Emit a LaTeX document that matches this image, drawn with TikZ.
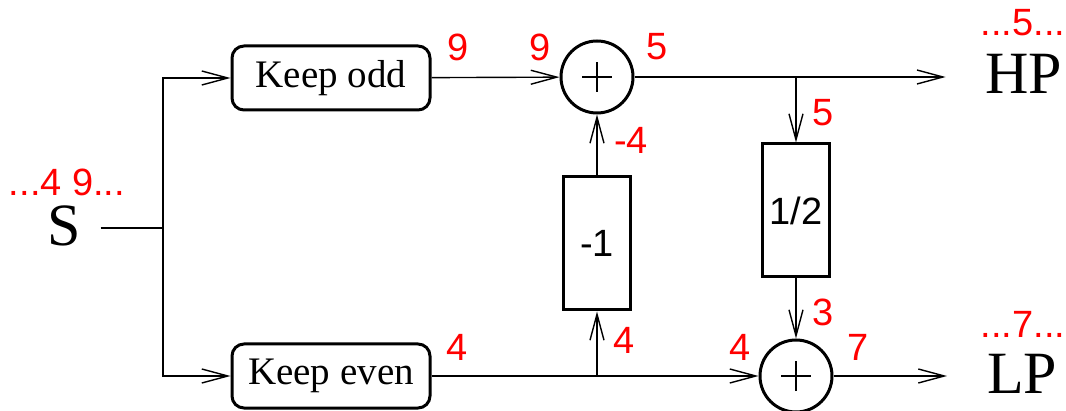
\documentclass[tikz,border=0pt]{standalone}
\usepackage{fontspec}
\setmainfont{Liberation Serif}
\setsansfont{Liberation Sans}
\usepackage{xcolor}
\usetikzlibrary{arrows.meta,positioning}
\newcommand{\bigfont}{\fontsize{30}{34}\selectfont}
\newcommand{\numfont}{\sffamily\fontsize{19}{22}\selectfont}
\tikzset{
  wire/.style={line width=0.7pt},
  arr/.style={wire,-{Straight Barb[length=13pt,width=7pt,line width=0.7pt]}},
  keepbox/.style={draw,line width=1.5pt,rounded corners=6pt,font=\fontsize{19.5}{22}\selectfont,minimum width=99pt,minimum height=32pt,inner sep=0pt},
  gainbox/.style={draw,line width=1.5pt,font=\numfont,minimum width=33.5pt,minimum height=66.5pt,inner sep=0pt},
  sumnode/.style={circle,draw,line width=1.5pt,minimum size=36pt,inner sep=0pt,
    path picture={\draw[line width=1pt]
      ([xshift=-7.5pt]path picture bounding box.center) -- ([xshift=7.5pt]path picture bounding box.center)
      ([yshift=-7.5pt]path picture bounding box.center) -- ([yshift=7.5pt]path picture bounding box.center);}},
  port/.style={font=\bigfont,inner sep=0pt,outer xsep=20pt},
  val/.style={text=red,font=\numfont,inner sep=0pt},
}
\begin{document}
\begin{tikzpicture}[x=0.5pt,y=-0.5pt]
\useasboundingbox (0,0) rectangle (1066,411);
% blocks
\node[font=\bigfont,inner sep=0pt,outer xsep=10pt] (s) at (64,226) {S};
\coordinate (split) at (163,228);
\node[keepbox] (odd) at (331,78) {Keep odd};
\node[keepbox] (even) at (331,376) {Keep even};
\node[sumnode] (sum1) at (597,77) {};
\node[sumnode] (sum2) at (796,376) {};
\node[gainbox] (neg) at (597,243.5) {-1};
\node[gainbox] (half) at (796,210.5) {1/2};
\node[port] (hp) at (1024,74) {HP};
\node[port] (lp) at (1022,374) {LP};
\coordinate (tap1) at (597,376);
\coordinate (tap2) at (796,77);
% connections
\draw[wire] (s.east |- split) -- (split);
\draw[arr] (split) |- (odd);
\draw[arr] (split) |- (even);
\draw[arr] (odd) -- (sum1);
\draw[arr] (even) -- (sum2);
\draw[arr] (tap1) -- (neg);
\draw[arr] (neg) -- (sum1);
\draw[arr] (sum1) -- (sum1 -| hp.west);
\draw[arr] (tap2) -- (half);
\draw[arr] (half) -- (sum2);
\draw[arr] (sum2) -- (sum2 -| lp.west);
% sample values
\node[val] (vs) at (67,182) {...4 9...};
\node[val] (vodd) at (458,47) {9};
\node[val] (vin1) at (540,47) {9};
\node[val] (vout1) at (657,47) {5};
\node[val] (vneg) at (631,140) {-4};
\node[val] (vhalfin) at (823,113) {5};
\node[val] (vhalfout) at (823,312) {3};
\node[val] (veven) at (457,347) {4};
\node[val] (vnegin) at (624,340) {4};
\node[val] (vin2) at (740,347) {4};
\node[val] (vout2) at (858,347) {7};
\node[val] (vhp) at (1023,23) {...5...};
\node[val] (vlp) at (1023,324) {...7...};
\end{tikzpicture}
\end{document}
